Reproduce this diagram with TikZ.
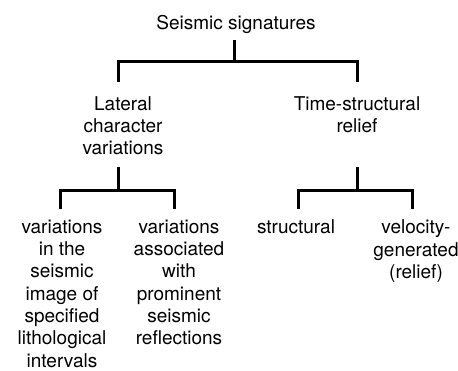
\documentclass[tikz,border=0pt]{standalone}
\usepackage{fontspec}
\setmainfont{TeX Gyre Heros}

\begin{document}
\begin{tikzpicture}[x=1pt, y=1pt, font=\fontsize{19}{22.3}\selectfont,
  branch/.style={line width=3pt},
  label/.style={align=center, inner sep=0pt, anchor=north}]
  \useasboundingbox (0,0) rectangle (458,-371);
  %% ── Top: root of the tree ─────────────────
  \node[inner sep=0pt, anchor=base] (root) at (236,-29.5) {Seismic signatures};
  %% ── Second level ──────────────────────────
  \node[label] (lat)  at (123,-96.2) {Lateral\\character\\variations};
  \node[label] (time) at (357,-96.2) {Time-structural\\relief};
  %% ── Leaves ────────────────────────────────
  \node[label] (litho)  at (62,-219.7)
    {variations\\in the\\seismic\\image of\\specified\\lithological\\intervals};
  \node[label] (refl)   at (179,-219.7)
    {variations\\associated\\with\\prominent\\seismic\\reflections};
  \node[label] (struct) at (296,-219.7) {structural};
  \node[label] (veloc)  at (416,-219.7) {velocity-\\generated\\(relief)};

  %% ── Brackets ──────────────────────────────
  \draw[branch] ([xshift=-2pt,yshift=-6pt]root.south) -- ++(0,-22) coordinate (rootfork);
  \draw[branch] ([xshift=-5pt,yshift=14.2pt]lat.north) |- (rootfork)
    -| ([yshift=14.2pt]time.north);
  %% left subtree
  \draw[branch] ([xshift=-5pt,yshift=-12pt]lat.south) -- ++(0,-23) coordinate (latfork);
  \draw[branch] ([xshift=-2pt,yshift=10.7pt]litho.north) |- (latfork)
    -| ([xshift=-5pt,yshift=10.7pt]refl.north);
  %% right subtree
  \draw[branch] ([yshift=-34pt]time.south) -- ++(0,-23) coordinate (timefork);
  \draw[branch] ([xshift=2pt,yshift=10.7pt]struct.north) |- (timefork)
    -| ([xshift=-4pt,yshift=10.7pt]veloc.north);
\end{tikzpicture}
\end{document}
